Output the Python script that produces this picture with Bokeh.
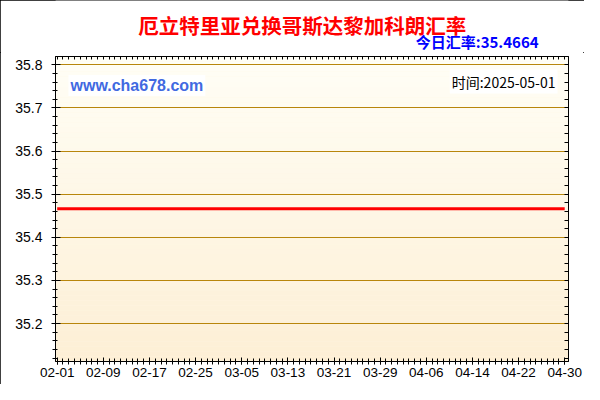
import pandas as pd
from bokeh.plotting import figure
from bokeh.layouts import column
from bokeh.models import (Range1d, FixedTicker, LinearAxis, Label, ColumnDataSource)
from bokeh.embed import file_html
from bokeh.resources import INLINE

# ---- data ----
title_text = "厄立特里亚兑换哥斯达黎加科朗汇率"
rate_text = "今日汇率:35.4664"
time_text = "时间:2025-05-01"
site_text = "www.cha678.com"
dates = ["2025-02-01", "2025-04-30"]
rates = [35.4664, 35.4664]
tick_dates = ["2025-02-01", "2025-02-09", "2025-02-17", "2025-02-25", "2025-03-05",
              "2025-03-13", "2025-03-21", "2025-03-29", "2025-04-06", "2025-04-14",
              "2025-04-22", "2025-04-30"]
tick_labels = ["02-01", "02-09", "02-17", "02-25", "03-05", "03-13", "03-21",
               "03-29", "04-06", "04-14", "04-22", "04-30"]
y_ticks = [35.2, 35.3, 35.4, 35.5, 35.6, 35.7, 35.8]

# ---- geometry ----
W, H = 584, 384
TH = 52                      # height of the heading strip
BL, BR, BT, BB = 55, 16, 4, 23
H2 = H - TH
FW, FH = W - BL - BR, H2 - BT - BB
FTOP = TH + BT               # page y of the plot frame top
origin = pd.Timestamp(dates[0])
def day(s):
    return (pd.Timestamp(s) - origin).days

x0, x1 = -0.294, 88.66
y0, y1 = 35.1119, 35.8192

def px_x(fx):
    return x0 + (fx - BL) / FW * (x1 - x0)

def px_y(fy):
    return y1 - (fy - FTOP) / FH * (y1 - y0)

# ---- heading strip ----
head = figure(width=W, height=TH, output_backend="svg", toolbar_location=None,
              x_axis_location=None, y_axis_location=None,
              x_range=Range1d(0, W), y_range=Range1d(TH, 0),
              min_border=0, min_border_left=0, min_border_right=0,
              min_border_top=0, min_border_bottom=0,
              border_fill_color="white", background_fill_color="white")
head.grid.visible = False
head.outline_line_color = None
head.add_layout(Label(x=281, y=24, text=title_text, text_align="center",
                      text_baseline="middle", text_font="Noto Sans CJK SC",
                      text_font_style="bold", text_font_size="20.5px", text_color="#FF0000"))
head.add_layout(Label(x=550, y=40.5, text=rate_text, text_align="right",
                      text_baseline="middle", text_font="Noto Sans CJK SC",
                      text_font_style="bold", text_font_size="15px", text_color="#0000FF"))

# ---- main plot ----
p = figure(width=W, height=H2, output_backend="svg", toolbar_location=None,
           x_range=Range1d(x0, x1), y_range=Range1d(y0, y1),
           min_border_left=BL, min_border_right=BR, min_border_top=BT, min_border_bottom=BB,
           background_fill_color="#FEF6E4", border_fill_color="white")
p.outline_line_color = "black"
p.outline_line_width = 1

# gradient background bands
n = 60
top_rgb = (0xFF, 0xFE, 0xF6)
bot_rgb = (0xFD, 0xEF, 0xD5)
bt, bb, cols = [], [], []
for i in range(n):
    a = y1 - (y1 - y0) * i / n
    b = y1 - (y1 - y0) * (i + 1) / n
    t = (i + 0.5) / n
    c = tuple(round(top_rgb[k] + (bot_rgb[k] - top_rgb[k]) * t) for k in range(3))
    bt.append(a); bb.append(b); cols.append("#%02X%02X%02X" % c)
bg = p.quad(left=x0 - 1, right=x1 + 1, top=bt, bottom=bb, fill_color=cols, line_color=None)
bg.level = "image"

# ticks
tick_days = [day(d) for d in tick_dates]
all_days = list(range(0, day(tick_dates[-1]) + 1))
xt = FixedTicker(ticks=tick_days, minor_ticks=all_days)
yminor = [round(35.1 + 0.02 * i, 2) for i in range(0, 37)]
yt = FixedTicker(ticks=y_ticks, minor_ticks=yminor)

xa = p.xaxis[0]
xa.ticker = xt
xa.major_label_overrides = {d: l for d, l in zip(tick_days, tick_labels)}
xa.major_label_text_font = "Liberation Sans"
xa.major_label_text_font_size = "13.5px"
xa.major_label_text_color = "black"
xa.major_label_standoff = 3
xa.major_tick_in = 4; xa.major_tick_out = 3
xa.minor_tick_in = 3; xa.minor_tick_out = 3
xa.axis_line_color = "black"

ya = p.yaxis[0]
ya.ticker = yt
ya.major_label_text_font = "Liberation Sans"
ya.major_label_text_font_size = "14px"
ya.major_label_text_color = "black"
ya.major_label_standoff = 9
ya.major_tick_in = 5; ya.major_tick_out = 4
ya.minor_tick_in = 2; ya.minor_tick_out = 3
ya.axis_line_color = "black"

top_ax = LinearAxis(ticker=FixedTicker(ticks=all_days, minor_ticks=[]),
                    major_label_text_alpha=0, major_label_text_font_size="1px",
                    major_tick_in=3, major_tick_out=0, minor_tick_in=0, minor_tick_out=0,
                    axis_line_color="black", major_label_standoff=0)
p.add_layout(top_ax, "above")
right_ax = LinearAxis(ticker=FixedTicker(ticks=yminor, minor_ticks=[]),
                      major_label_text_alpha=0, major_label_text_font_size="1px",
                      major_tick_in=4, major_tick_out=0, minor_tick_in=0, minor_tick_out=0,
                      axis_line_color="black", major_label_standoff=0)
p.add_layout(right_ax, "right")

p.xgrid.visible = False
p.ygrid.ticker = FixedTicker(ticks=y_ticks)
p.ygrid.grid_line_color = "#B8860B"
p.ygrid.grid_line_width = 1

# the data line
src = ColumnDataSource(dict(x=[day(d) for d in dates], y=rates))
p.line("x", "y", source=src, line_color="#FF0000", line_width=3)

# in-plot texts
p.add_layout(Label(x=px_x(68), y=px_y(85), text=site_text, text_align="left",
                   text_baseline="middle", text_font="Liberation Sans", text_font_style="bold",
                   text_font_size="16px", text_color="#4169E1",
                   background_fill_color="white", padding=2))
p.add_layout(Label(x=px_x(557), y=px_y(81), text=time_text, text_align="right",
                   text_baseline="middle", text_font="Noto Sans CJK SC",
                   text_font_size="14px", text_color="black",
                   background_fill_color="white", padding=2))

page = column(head, p, spacing=0)
page.styles = {"outline": "1px solid black", "outline-offset": "-1px"}

open("out.html", "w").write(file_html(page, INLINE))
